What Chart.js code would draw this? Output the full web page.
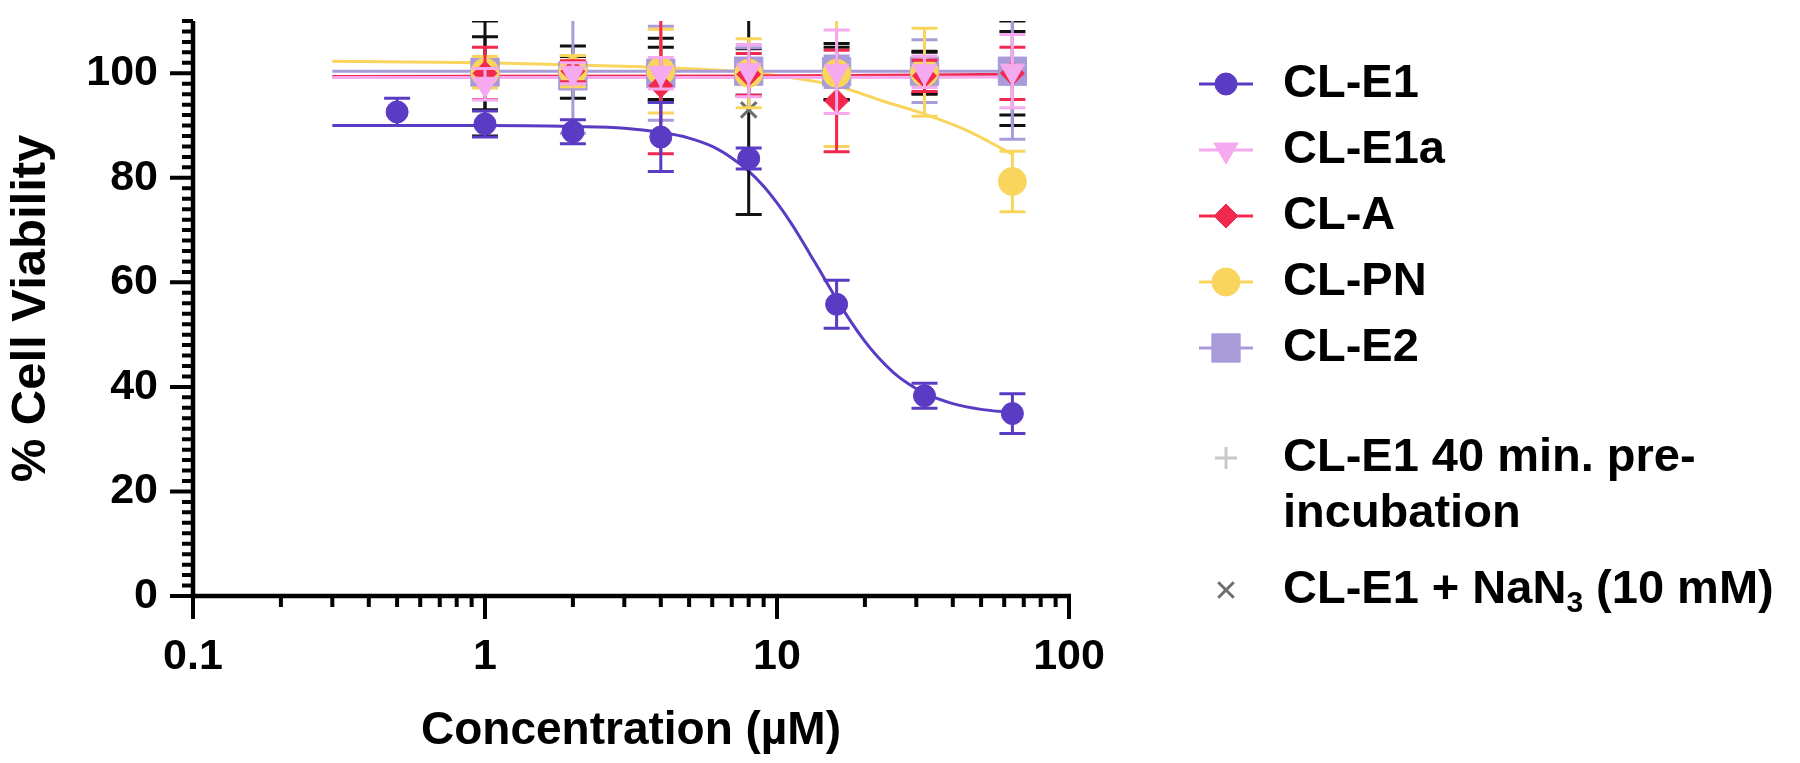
<!DOCTYPE html>
<html lang="en">

<head>
  <meta charset="UTF-8">
  <title>% Cell Viability</title>
  <script src="https://cdn.jsdelivr.net/npm/chart.js"></script>
  <style>
    html, body { margin: 0; padding: 0; background: #fff; }
    #wrap { width: 1800px; height: 763px; }
  </style>
</head>

<body>
  <div id="wrap">
    <canvas id="viability" width="1800" height="763"></canvas>
  </div>

  <script>
    // axis ranges and labelled ticks
    const xMin = 0.1, xMax = 100;
    const yMin = 0, yMax = 110;
    const xTickLabels = [0.1, 1, 10, 100];
    const yTickLabels = [0, 20, 40, 60, 80, 100];

    // concentrations (µM)
    const concE1 = [0.5, 1, 2, 4, 8, 16, 32, 64];
    const conc = [1, 2, 4, 8, 16, 32, 64];

    // means and error (SD)
    const e1Mean = [92.6, 90.3, 88.8, 87.8, 83.7, 55.8, 38.3, 34.9];
    const e1Err = [2.6, 2.5, 2.3, 6.6, 2.0, 4.6, 2.4, 3.8];
    const e1aMean = [97.9, 100.0, 100.0, 100.5, 100.3, 100.3, 100.4];
    const e1aErr = [3.0, 2.0, 3.0, 5.0, 8.0, 3.0, 7.0];
    const aMean = [100.0, 100.4, 97.6, 99.8, 94.7, 99.5, 100.0];
    const aErr = [5.0, 2.0, 13.0, 4.0, 9.7, 3.0, 5.0];
    const pnMean = [100.2, 100.4, 100.4, 100.0, 100.0, 100.2, 79.3];
    const pnErr = [3.0, 3.0, 8.0, 6.6, 14.0, 8.4, 5.8];
    const e2Mean = [100.2, 99.5, 100.0, 100.4, 100.3, 100.4, 100.4];
    const e2Err = [2.0, 11.0, 9.0, 4.5, 3.0, 6.0, 13.0];
    const preMean = [100.0, 100.2, 100.7, 100.2, 100.3, 100.2, 100.0];
    const preErr = [7.0, 5.0, 6.0, 4.5, 5.4, 4.0, 10.0];
    const nanMean = [99.0, 100.2, 100.0, 93.0, 100.0, 100.0, 100.0];
    const nanErr = [11.0, 3.0, 5.0, 20.0, 5.0, 4.0, 8.0];

    // fitted curves
    const fitE1X = [0.3, 0.5, 1, 2, 3, 4, 5, 6, 7, 8, 9, 10, 11, 12, 13, 14, 15, 16, 18, 20, 22, 25, 28, 32, 40, 50, 64];
    const fitE1Y = [90.0, 90.0, 90.0, 89.8, 89.5, 88.7, 87.6, 86.0, 83.8, 81.3, 78.4, 75.2, 71.9, 68.6, 65.3, 62.3, 59.4, 56.8, 52.3, 48.7, 45.9, 42.8, 40.7, 38.8, 36.8, 35.7, 35.1];
    const fitPnX = [0.3, 1, 2, 4, 8, 12, 16, 23, 32, 45, 64];
    const fitPnY = [102.3, 102.0, 101.6, 101.1, 100.2, 98.9, 97.6, 94.7, 92.2, 89.0, 84.5];
    const fitFlatX = [0.3, 8, 64];
    const fitE1aY = [99.2, 99.2, 99.3];
    const fitAY = [99.4, 99.5, 99.8];
    const fitE2Y = [100.4, 100.4, 100.4];

    const legendNames = ['CL-E1', 'CL-E1a', 'CL-A', 'CL-PN', 'CL-E2', 'CL-E1 40 min. pre-|incubation', 'CL-E1 + NaN|3| (10 mM)'];

    const FONT = '"Liberation Sans", Arial, sans-serif';

    function pts(xs, ys) {
      return xs.map((x, i) => ({ x: x, y: ys[i] }));
    }

    function markerSet(label, xs, ys, errs, color, barColor, style, radius, order, extra) {
      return Object.assign({
        label: label,
        data: pts(xs, ys),
        errors: errs,
        barColor: barColor,
        showLine: false,
        pointStyle: style,
        pointRadius: radius,
        pointBackgroundColor: color,
        pointBorderColor: color,
        pointBorderWidth: 1,
        order: order
      }, extra || {});
    }

    function fitSet(xs, ys, color, order) {
      return {
        data: pts(xs, ys),
        showLine: true,
        borderColor: color,
        borderWidth: 3,
        pointRadius: 0,
        cubicInterpolationMode: 'monotone',
        order: order
      };
    }

    const cE1 = '#5a3bc4', cE1a = '#f5a9ee', cA = '#f2294f', cPN = '#f9d55e', cE2 = '#a99bda';

    const datasets = [
      markerSet('CL-E1', concE1, e1Mean, e1Err, cE1, cE1, 'circle', 11, 0),
      markerSet('CL-E1a', conc, e1aMean, e1aErr, cE1a, cE1a, 'triangle', 14, 1, { pointRotation: 180 }),
      markerSet('CL-A', conc, aMean, aErr, cA, cA, 'rectRot', 12, 2),
      markerSet('CL-PN', conc, pnMean, pnErr, cPN, cPN, 'circle', 14, 3),
      markerSet('CL-E2', conc, e2Mean, e2Err, cE2, cE2, 'rect', 20, 4),
      markerSet('pre', conc, preMean, preErr, '#c9c9c9', '#111', 'cross', 11, 5, { pointBorderWidth: 3 }),
      markerSet('nan', conc, nanMean, nanErr, '#6f6f6f', '#111', 'crossRot', 11, 6, { pointBorderWidth: 3 }),
      fitSet(fitFlatX, fitE2Y, cE2, 10),
      fitSet(fitFlatX, fitE1aY, cE1a, 11),
      fitSet(fitFlatX, fitAY, cA, 12),
      fitSet(fitPnX, fitPnY, cPN, 13),
      fitSet(fitE1X, fitE1Y, cE1, 14)
    ];

    // error bars drawn just before each marker set
    const errorBars = {
      id: 'errorBars',
      beforeDatasetDraw(chart, args) {
        const ds = chart.data.datasets[args.index];
        if (!ds.errors) return;
        const { ctx, chartArea, scales: { x, y } } = chart;
        ctx.save();
        ctx.beginPath();
        ctx.rect(chartArea.left, chartArea.top, chartArea.right - chartArea.left, chartArea.bottom - chartArea.top);
        ctx.clip();
        ctx.strokeStyle = ds.barColor;
        ctx.lineWidth = 3;
        ds.data.forEach((p, i) => {
          const e = ds.errors[i];
          const px = x.getPixelForValue(p.x);
          const top = y.getPixelForValue(p.y + e);
          const bot = y.getPixelForValue(p.y - e);
          ctx.beginPath();
          ctx.moveTo(px, top); ctx.lineTo(px, bot);
          ctx.moveTo(px - 13, top); ctx.lineTo(px + 13, top);
          ctx.moveTo(px - 13, bot); ctx.lineTo(px + 13, bot);
          ctx.stroke();
        });
        ctx.restore();
      }
    };

    // prism-like axes with major and minor ticks
    const prismAxes = {
      id: 'prismAxes',
      afterDraw(chart) {
        const { ctx, scales: { x, y } } = chart;
        const ax = x.getPixelForValue(xMin);
        const ay = y.getPixelForValue(yMin);
        ctx.save();
        ctx.strokeStyle = '#000';
        ctx.lineWidth = 4.5;
        ctx.beginPath();
        ctx.moveTo(ax, y.getPixelForValue(yMax));
        ctx.lineTo(ax, ay + 2);
        ctx.moveTo(ax - 2, ay);
        ctx.lineTo(x.getPixelForValue(xMax) + 2, ay);
        ctx.stroke();
        ctx.lineWidth = 4;
        ctx.beginPath();
        for (let v = yMin; v <= yMax; v += 2) {
          const py = y.getPixelForValue(v);
          const len = (v % 20 === 0 && v <= 100) ? 23 : 11;
          ctx.moveTo(ax, py); ctx.lineTo(ax - len, py);
        }
        for (let d = xMin; d <= xMax * 1.0001; d *= 10) {
          for (let m = 1; m <= 9; m++) {
            const v = d * m;
            if (v > xMax * 1.0001) break;
            const px = x.getPixelForValue(v);
            const len = m === 1 ? 23 : 11;
            ctx.moveTo(px, ay); ctx.lineTo(px, ay + len);
          }
        }
        ctx.stroke();
        ctx.restore();
      }
    };

    // legend on the right with line + marker like the original
    const sideLegend = {
      id: 'sideLegend',
      afterDraw(chart) {
        const { ctx } = chart;
        const rows = [84, 150, 216, 282, 348, 458, 590];
        const mx = 1226, tx = 1283;
        ctx.save();
        legendNames.forEach((name, i) => {
          const ds = chart.data.datasets[i];
          const cy = rows[i];
          if (i < 5) {
            ctx.strokeStyle = ds.pointBorderColor;
            ctx.lineWidth = 3;
            ctx.beginPath();
            ctx.moveTo(mx - 27, cy); ctx.lineTo(mx + 27, cy);
            ctx.stroke();
          }
          ctx.fillStyle = ds.pointBackgroundColor;
          ctx.strokeStyle = ds.pointBorderColor;
          ctx.lineWidth = ds.pointBorderWidth;
          Chart.helpers.drawPoint(ctx, {
            pointStyle: ds.pointStyle,
            radius: ds.pointRadius,
            rotation: ds.pointRotation || 0,
            borderWidth: ds.pointBorderWidth
          }, mx, cy);

          ctx.fillStyle = '#000';
          ctx.textBaseline = 'middle';
          ctx.font = 'bold 47px ' + FONT;
          const parts = name.split('|');
          if (i === 5) {
            ctx.fillText(parts[0], tx, cy);
            ctx.fillText(parts[1], tx, cy + 56);
          } else if (i === 6) {
            let cx = tx;
            ctx.fillText(parts[0], cx, cy);
            cx += ctx.measureText(parts[0]).width;
            ctx.font = 'bold 30px ' + FONT;
            ctx.fillText(parts[1], cx, cy + 14);
            cx += ctx.measureText(parts[1]).width;
            ctx.font = 'bold 47px ' + FONT;
            ctx.fillText(parts[2], cx, cy);
          } else {
            ctx.fillText(name, tx, cy);
          }
        });
        ctx.restore();
      }
    };

    const chart = new Chart(document.getElementById('viability'), {
      type: 'scatter',
      data: { datasets: datasets },
      plugins: [errorBars, prismAxes, sideLegend],
      options: {
        responsive: false,
        devicePixelRatio: 1,
        animation: false,
        layout: { padding: { left: 0, top: 13, right: 731, bottom: 0 } },
        plugins: { legend: { display: false }, tooltip: { enabled: false } },
        scales: {
          x: {
            type: 'logarithmic',
            min: xMin,
            max: xMax,
            afterBuildTicks: (s) => { s.ticks = xTickLabels.map(v => ({ value: v, major: true })); },
            afterFit: (s) => { s.height = 167; s.paddingLeft = 0; s.paddingRight = 0; },
            border: { display: false },
            grid: { display: true, drawOnChartArea: false, drawTicks: true, tickLength: 23, tickColor: 'rgba(0,0,0,0)' },
            ticks: {
              autoSkip: false,
              maxRotation: 0,
              padding: 12,
              color: '#000',
              font: { family: FONT, size: 43, weight: 'bold' },
              callback: (v) => String(v)
            },
            title: {
              display: true,
              text: 'Concentration (µM)',
              color: '#000',
              padding: { top: 0, bottom: 4 },
              font: { family: FONT, size: 46, weight: 'bold' }
            }
          },
          y: {
            min: yMin,
            max: yMax,
            afterBuildTicks: (s) => { s.ticks = yTickLabels.map(v => ({ value: v })); },
            afterFit: (s) => { s.width = 193; s.paddingTop = 0; s.paddingBottom = 0; },
            border: { display: false },
            grid: { display: true, drawOnChartArea: false, drawTicks: true, tickLength: 23, tickColor: 'rgba(0,0,0,0)' },
            ticks: {
              padding: 12,
              color: '#000',
              font: { family: FONT, size: 43, weight: 'bold' }
            },
            title: {
              display: true,
              text: '% Cell Viability',
              color: '#000',
              padding: { top: 2, bottom: 0 },
              font: { family: FONT, size: 49, weight: 'bold' }
            }
          }
        }
      }
    });
  </script>
</body>

</html>
